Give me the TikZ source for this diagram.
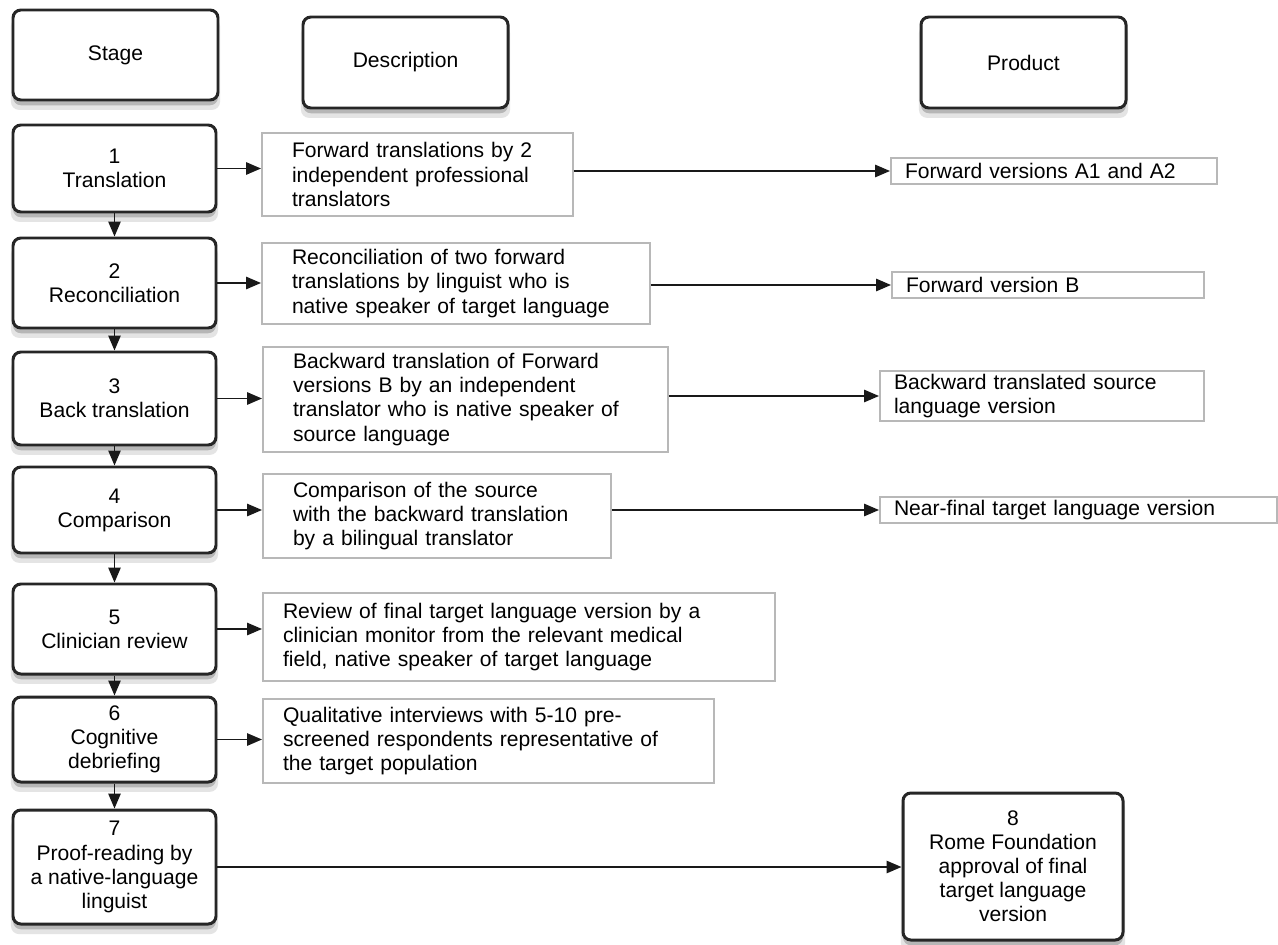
\documentclass[tikz,border=0pt]{standalone}
\usepackage{fontspec}
\setmainfont{Liberation Sans}
\usetikzlibrary{arrows.meta,shadows}

\tikzset{
	stagebox/.style={draw=black!85, line width=1.7pt, rounded corners=4.5pt, fill=white,
		align=center, inner sep=0pt,
		drop shadow={shadow xshift=0pt, shadow yshift=-5pt, shadow scale=1.02, opacity=.15, fill=black!70},
		drop shadow={shadow xshift=0pt, shadow yshift=-3pt, opacity=.3, fill=black!70}},
	descbox/.style={draw=black!28, line width=1.1pt, fill=white, align=left,
		inner xsep=6mm, inner ysep=0pt},
	prodbox/.style={descbox, inner xsep=2.8mm},
	link/.style={->, line width=1pt, black!90},
}

\begin{document}
\begin{tikzpicture}[x=0.2mm, y=-0.2mm, >={Triangle[length=8.5pt,width=7pt]},
	font=\fontsize{12}{13.7}\selectfont]

	\useasboundingbox[fill=white] (0,0) rectangle (1278,944);

	% ---- intestazioni ----
	\node[stagebox, minimum width=41mm, minimum height=18mm] (hstage) at (115.5,55) {Stage};
	\node[stagebox, minimum width=41mm, minimum height=18.2mm] (hdesc) at (405.5,62.5) {Description};
	\node[stagebox, minimum width=41mm, minimum height=18.2mm] (hprod) at (1023.5,62.5) {Product};

	% ---- fasi (colonna sinistra) ----
	\node[stagebox, minimum width=40.6mm, minimum height=17.4mm] (s1) at (114.5,168.5) {1\\Translation};
	\node[stagebox, minimum width=40.6mm, minimum height=18mm] (s2) at (114.5,283) {2\\Reconciliation};
	\node[stagebox, minimum width=40.6mm, minimum height=18.6mm] (s3) at (114.5,398.5) {3\\Back translation};
	\node[stagebox, minimum width=40.6mm, minimum height=17.2mm] (s4) at (114.5,510) {4\\Comparison};
	\node[stagebox, minimum width=40.6mm, minimum height=18mm] (s5) at (114.5,629) {5\\Clinician review};
	\node[stagebox, minimum width=40.6mm, minimum height=17mm] (s6) at (114.5,739.5) {6\\Cognitive\\debriefing};
	\node[stagebox, minimum width=40.6mm, minimum height=22.8mm] (s7) at (114.5,867)
		{7\\Proof-reading by\\a native-language\\linguist};

	% ---- descrizioni ----
	\node[descbox, minimum width=62.2mm, minimum height=16.6mm, text width=50.2mm] (d1) at (417.5,174.5)
		{Forward translations by 2\\independent professional\\translators};
	\node[descbox, minimum width=77.6mm, minimum height=16.2mm, text width=65.6mm] (d2) at (456,283.5)
		{Reconciliation of two forward\\translations by linguist who is\\native speaker of target language};
	\node[descbox, minimum width=81mm, minimum height=21mm, text width=69mm] (d3) at (465.5,399.5)
		{Backward translation of Forward\\versions B by an independent\\translator who is native speaker of\\source language};
	\node[descbox, minimum width=69.6mm, minimum height=16.8mm, text width=57.6mm] (d4) at (437,516)
		{Comparison of the source\\with the backward translation\\by a bilingual translator};
	\node[descbox, inner xsep=4mm, minimum width=102.4mm, minimum height=17.6mm, text width=94.4mm] (d5) at (519,637)
		{Review of final target language version by a\\clinician monitor from the relevant medical\\field, native speaker of target language};
	\node[descbox, inner xsep=4mm, minimum width=90.2mm, minimum height=16.8mm, text width=82.2mm] (d6) at (488.5,741)
		{Qualitative interviews with 5-10 pre-\\screened respondents representative of\\the target population};

	% ---- prodotti ----
	\node[prodbox, minimum width=65.2mm, minimum height=5.2mm, text width=59.6mm] (p1) at (1054,171)
		{Forward versions A1 and A2};
	\node[prodbox, minimum width=62.4mm, minimum height=5.2mm, text width=56.8mm] (p2) at (1048,285)
		{Forward version B};
	\node[prodbox, minimum width=64.8mm, minimum height=10mm, text width=59.2mm] (p3) at (1042,396)
		{Backward translated source\\language version};
	\node[prodbox, minimum width=79.4mm, minimum height=5.2mm, text width=73.8mm] (p4) at (1078.5,510)
		{Near-final target language version};
	\node[stagebox, minimum width=44mm, minimum height=29.4mm] (p8) at (1013,866.5)
		{8\\Rome Foundation\\approval of final\\target language\\version};

	% ---- frecce ----
	\foreach \a/\b in {s1/s2,s2/s3,s3/s4,s4/s5,s5/s6,s6/s7}
		\draw[link] (\a) -- (\b);
	\foreach \i in {1,...,6}
		\draw[link] (s\i.east) -- (s\i.east -| d\i.west);
	\foreach \i in {1,...,4}
		\draw[link] (p\i.west -| d\i.east) -- (p\i.west);
	\draw[link] (s7.east) -- (s7.east -| p8.west);

\end{tikzpicture}
\end{document}
